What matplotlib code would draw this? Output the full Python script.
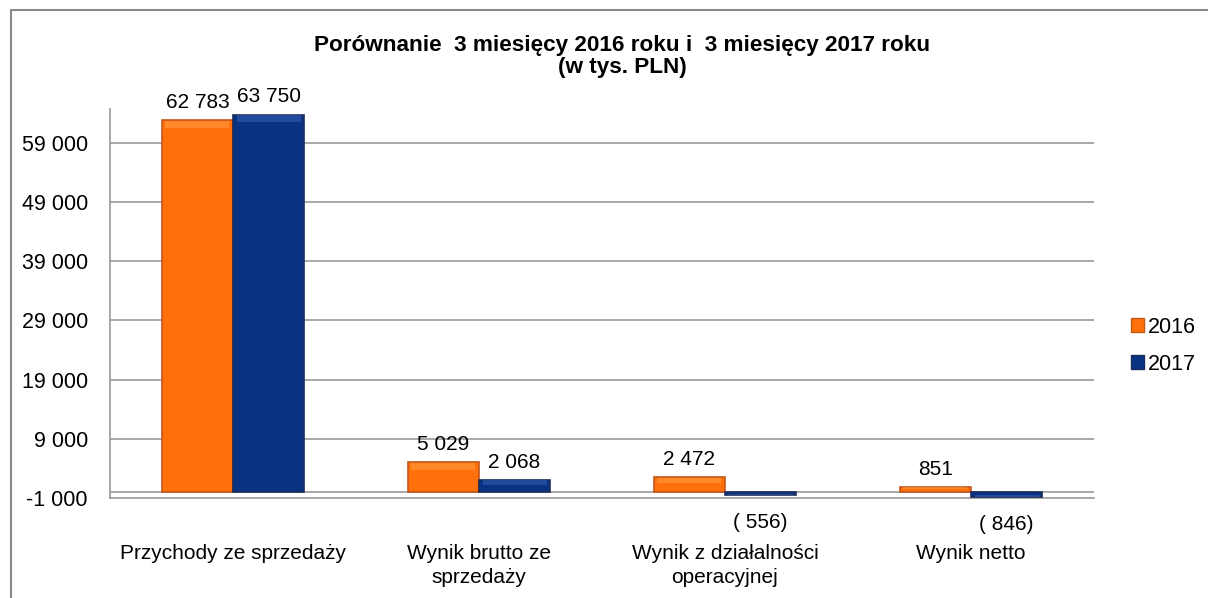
import numpy as np
import matplotlib
matplotlib.use('Agg')
import matplotlib.pyplot as plt
from matplotlib.patches import Rectangle, Patch

plt.rcParams['font.family'] = ['Liberation Sans', 'DejaVu Sans']

categories = ['Przychody ze sprzedaży', 'Wynik brutto ze\nsprzedaży',
              'Wynik z działalności\noperacyjnej', 'Wynik netto']
series_names = ['2016', '2017']
values_2016 = [62783, 5029, 2472, 851]
values_2017 = [63750, 2068, -556, -846]
y_ticks = [-1000, 9000, 19000, 29000, 39000, 49000, 59000]

ORANGE = '#ff6f0a'
ORANGE_EDGE = '#c4571a'
ORANGE_HI = '#ff9d45'
BLUE = '#0a3282'
BLUE_EDGE = '#1c2c5c'
BLUE_HI = '#3560b8'
GRID = '#9a9a9a'


def fmt(v):
    s = '{:,}'.format(abs(v)).replace(',', ' ')
    return '( %s)' % s if v < 0 else s


fig = plt.figure(figsize=(12.08, 5.98), dpi=100)
ax = fig.add_axes([110 / 1208, 100 / 598, 984 / 1208, 389 / 598])

x = np.arange(len(categories))
w = 0.289
groups = [(values_2016, -w / 2, ORANGE, ORANGE_EDGE, ORANGE_HI),
          (values_2017, w / 2, BLUE, BLUE_EDGE, BLUE_HI)]

for vals, off, col, edge, hi in groups:
    bars = ax.bar(x + off, vals, w, color=col, edgecolor=edge, linewidth=1.2, zorder=3)
    for b, v in zip(bars, vals):
        # soft bevel highlight near the top/bottom face
        band = min(1200, abs(v) * 0.35)
        bx = b.get_x() + w * 0.05
        bw = w * 0.9
        by = v - band * 1.1 if v >= 0 else v + band * 0.1
        ax.add_patch(Rectangle((bx, by), bw, band, facecolor=hi, edgecolor='none',
                               alpha=0.55, zorder=4))
        if v >= 0:
            ax.annotate(fmt(v), (b.get_x() + w / 2, v), xytext=(0, 6),
                        textcoords='offset points', ha='center', va='bottom', fontsize=15)
        else:
            ax.annotate(fmt(v), (b.get_x() + w / 2, v), xytext=(0, -13),
                        textcoords='offset points', ha='center', va='top', fontsize=15)

ax.set_xlim(-0.5, len(categories) - 0.5)
ax.set_ylim(-1000, 64700)
ax.set_yticks(y_ticks)
ax.set_yticklabels([fmt(t) if t >= 0 else '-' + fmt(-t) for t in y_ticks])
ax.set_xticks(x)
ax.set_xticklabels(categories, fontsize=15, va='top', linespacing=1.35)
ax.tick_params(axis='x', length=0, pad=33)
ax.tick_params(axis='y', length=0, pad=16, labelsize=15.5)

for t in y_ticks[1:]:
    ax.axhline(t, color=GRID, lw=1.2, zorder=1)
ax.axhline(0, color=GRID, lw=1.2, zorder=1)

for s in ['top', 'right']:
    ax.spines[s].set_visible(False)
for s in ['left', 'bottom']:
    ax.spines[s].set_color(GRID)
    ax.spines[s].set_linewidth(1.2)

fig.text(622 / 1208, 1 - 56.5 / 598, 'Porównanie  3 miesięcy 2016 roku i  3 miesięcy 2017 roku\n(w tys. PLN)',
         ha='center', va='center', fontsize=16.2, fontweight='bold', linespacing=1.1)

handles = [Patch(facecolor=ORANGE, edgecolor=ORANGE_EDGE),
           Patch(facecolor=BLUE, edgecolor=BLUE_EDGE)]
fig.legend(handles, series_names, loc='upper left', bbox_to_anchor=(1120 / 1208, 1 - 306 / 598),
           frameon=False, fontsize=15.5, handlelength=0.6, handleheight=0.6,
           handletextpad=0.2, labelspacing=0.75, borderpad=0)

# chart border
fig.patches.append(Rectangle((10.5 / 1208, -0.1), 1.2, 1.1 - 10.5 / 598, transform=fig.transFigure,
                             fill=False, edgecolor='#8a8a8a', lw=1.5))

fig.savefig('out.png', dpi=100)
